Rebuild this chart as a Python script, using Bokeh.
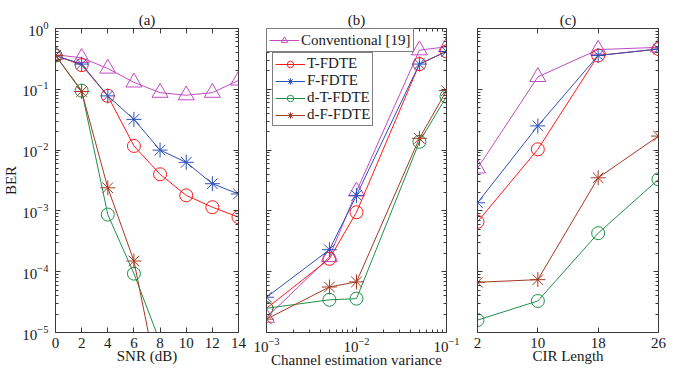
from bokeh.plotting import figure
from bokeh.layouts import row
from bokeh.models import (LinearAxis, LogAxis, FixedTicker, Legend, LegendItem,
                          Range1d, LogTickFormatter)
from bokeh.embed import file_html
from bokeh.resources import INLINE

# ---------------- data ----------------
snr = [0, 2, 4, 6, 8, 10, 12, 14]
snr_d = [0, 2, 4, 6, 8]
a_conv = [0.37, 0.33, 0.22, 0.13, 0.088, 0.08, 0.088, 0.14]
a_t = [0.36, 0.25, 0.078, 0.0117, 0.004, 0.0018, 0.00115, 0.00079]
a_f = [0.36, 0.26, 0.078, 0.032, 0.010, 0.0063, 0.0028, 0.0019]
a_dt = [0.36, 0.095, 0.00087, 0.000093, 0.000007]
a_df = [0.36, 0.092, 0.0024, 0.00015, 0.0000011]

var = [1e-3, 5e-3, 1e-2, 5e-2, 1e-1]
b_conv = [1.76e-5, 1.75e-4, 2.1e-3, 0.44, 0.50]
b_t = [2.5e-5, 1.63e-4, 9.5e-4, 0.26, 0.42]
b_f = [3.8e-5, 2.3e-4, 1.8e-3, 0.26, 0.42]
b_dt = [2.5e-5, 3.45e-5, 3.6e-5, 0.0137, 0.076]
b_df = [1.66e-5, 5.6e-5, 6.8e-5, 0.0156, 0.095]

cir = [2, 10, 18, 26]
c_conv = [5e-3, 0.16, 0.45, 0.49]
c_t = [6.6e-4, 0.0103, 0.36, 0.46]
c_f = [1.36e-3, 0.025, 0.36, 0.46]
c_dt = [1.6e-5, 3.3e-5, 4.3e-4, 3.3e-3]
c_df = [6.7e-5, 7.4e-5, 3.5e-3, 0.017]

snr_ticks = [0, 2, 4, 6, 8, 10, 12, 14]
cir_ticks = [2, 10, 18, 26]
ber_decades = [-5, -4, -3, -2, -1, 0]
var_decades = [-3, -2, -1]

names = ["Conventional [19]", "T-FDTE", "F-FDTE", "d-T-FDTE", "d-F-FDTE"]
colors = ["#C04CC0", "#FF1A1A", "#2F50B8", "#1E9148", "#A33A22"]
markers = ["triangle", "circle", "asterisk", "circle", "asterisk"]
msizes = [16, 13, 15, 13, 15]

FONT = "Liberation Serif"
AX = "#3a3a3a"
TXT = "#1a1a1a"
H = 370


def log_ticker(decades):
    majors = [10.0 ** d for d in decades]
    minors = [m * 10.0 ** d for d in decades[:-1] for m in range(2, 10)]
    return FixedTicker(ticks=majors, minor_ticks=minors)


def style_axis(ax, labels=True):
    ax.axis_line_color = AX
    ax.major_tick_line_color = AX
    ax.minor_tick_line_color = AX
    ax.major_tick_in = 5
    ax.major_tick_out = 0
    ax.minor_tick_in = 3
    ax.minor_tick_out = 0
    ax.major_label_text_font = FONT
    ax.major_label_text_font_size = "15px"
    ax.major_label_text_color = TXT
    ax.axis_label_text_font = FONT
    ax.axis_label_text_font_size = "15px"
    ax.axis_label_text_font_style = "normal"
    ax.axis_label_text_color = TXT
    ax.axis_label_standoff = -3
    ax.major_label_standoff = 5
    if not labels:
        ax.major_label_text_font_size = "0px"
        ax.major_label_text_color = None
        ax.major_label_standoff = 0


def make_fig(title, xlabel, xlog, xr, xticker, width, bl, br, ylabels):
    p = figure(width=width, height=H, output_backend="svg", toolbar_location=None,
               x_axis_type="log" if xlog else "linear", y_axis_type="log",
               x_range=Range1d(*xr), y_range=Range1d(1e-5, 1.0),
               min_border_left=bl, min_border_right=br, min_border_top=28,
               min_border_bottom=38)
    p.grid.visible = False
    p.outline_line_color = AX
    p.background_fill_color = "white"
    p.border_fill_color = "white"
    p.title.text = title
    p.title.align = "center"
    p.title.text_font = FONT
    p.title.text_font_size = "15px"
    p.title.text_font_style = "normal"
    p.title.text_color = TXT
    p.title.standoff = 2

    xa = p.xaxis[0]
    ya = p.yaxis[0]
    xa.ticker = xticker
    ya.ticker = log_ticker(ber_decades)
    ya.formatter = LogTickFormatter()
    if xlog:
        xa.formatter = LogTickFormatter()
    style_axis(xa, True)
    style_axis(ya, ylabels)
    ya.major_label_standoff = 7 if ylabels else 0
    ya.axis_label_standoff = 0
    xa.axis_label = xlabel
    if ylabels:
        ya.axis_label = "BER"
    if not xlog:
        xa.minor_tick_line_color = None

    top = LogAxis(ticker=xticker) if xlog else LinearAxis(ticker=xticker)
    style_axis(top, False)
    if not xlog:
        top.minor_tick_line_color = None
    right = LogAxis(ticker=log_ticker(ber_decades))
    style_axis(right, False)
    p.add_layout(top, "above")
    p.add_layout(right, "right")
    return p


def add_series(p, x, y, i):
    rl = p.line(x, y, line_color=colors[i], line_width=1)
    rm = p.scatter(x, y, marker=markers[i], size=msizes[i], line_color=colors[i],
                   fill_color=None, line_width=1)
    return [rl, rm]


pa = make_fig("(a)", "SNR (dB)", False, (0, 14), FixedTicker(ticks=snr_ticks),
              252, 55, 14, True)
pb = make_fig("(b)", "Channel estimation variance", True, (1e-3, 1e-1),
              log_ticker(var_decades), 210, 14, 16, False)
pc = make_fig("(c)", "CIR Length", False, (2, 26), FixedTicker(ticks=cir_ticks),
              214, 15, 18, False)

for i, ys in enumerate([a_conv, a_t, a_f]):
    add_series(pa, snr, ys, i)
add_series(pa, snr_d, a_dt, 3)
add_series(pa, snr_d, a_df, 4)

rb = []
for i, ys in enumerate([b_conv, b_t, b_f, b_dt, b_df]):
    rb.append(add_series(pb, var, ys, i))

for i, ys in enumerate([c_conv, c_t, c_f, c_dt, c_df]):
    add_series(pc, cir, ys, i)

leg_common = dict(border_line_color="black", border_line_width=1,
                  background_fill_color="white", background_fill_alpha=1.0,
                  label_text_font=FONT, label_text_font_size="15px",
                  label_text_color=TXT, glyph_width=30, glyph_height=16,
                  spacing=0, padding=2, margin=0, label_standoff=2)
leg1 = Legend(items=[LegendItem(label=names[0], renderers=rb[0])],
              location="top_left", label_height=18, **leg_common)
leg2 = Legend(items=[LegendItem(label=names[i], renderers=rb[i]) for i in range(1, 5)],
              location=(6, 206), label_height=16, **leg_common)
pb.add_layout(leg1)
pb.add_layout(leg2)

layout = row(pa, pb, pc)
open("out.html", "w").write(file_html(layout, INLINE))
